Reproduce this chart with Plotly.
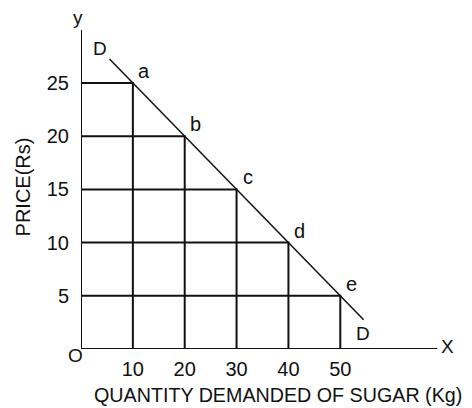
import plotly.graph_objects as go

# Data
quantity = [10, 20, 30, 40, 50]          # kg
price = [25, 20, 15, 10, 5]              # Rs
point_labels = ["a", "b", "c", "d", "e"]
x_tick_vals = [10, 20, 30, 40, 50]
y_tick_vals = [5, 10, 15, 20, 25]
demand_ext = [5.5, 54.5]                 # demand line extent (x)

INK = "#111111"
FONT = "Arial, Liberation Sans, sans-serif"

fig = go.Figure()

# staircase guide lines: horizontal from y-axis to point, vertical from point to x-axis
gx, gy = [], []
for q, p in zip(quantity, price):
    gx += [0, q, q, None]
    gy += [p, p, 0, None]
fig.add_trace(go.Scatter(x=gx, y=gy, mode="lines", line=dict(color=INK, width=2),
                         hoverinfo="skip", showlegend=False))

# demand line D-D (p = 30 - 0.5 q fits the points)
slope = (price[-1] - price[0]) / (quantity[-1] - quantity[0])
intercept = price[0] - slope * quantity[0]
dx = demand_ext
dy = [intercept + slope * v for v in dx]
fig.add_trace(go.Scatter(x=dx, y=dy, mode="lines", line=dict(color=INK, width=1.5),
                         hoverinfo="skip", showlegend=False))

# axes lines
x_axis_end = 68.7
y_axis_end = 30
fig.add_trace(go.Scatter(x=[0, x_axis_end, None, 0, 0], y=[0, 0, None, 0, y_axis_end],
                         mode="lines", line=dict(color=INK, width=2),
                         hoverinfo="skip", showlegend=False))

ann = []
for q, p, t in zip(quantity, price, point_labels):
    ann.append(dict(x=q, y=p, text=t, showarrow=False, xshift=11, yshift=12,
                    font=dict(size=20, color=INK, family=FONT)))
ann.append(dict(x=dx[0], y=dy[0], text="D", showarrow=False, xshift=-10, yshift=11,
                font=dict(size=19, color=INK, family=FONT)))
ann.append(dict(x=dx[1], y=dy[1], text="D", showarrow=False, xshift=-1, yshift=-14,
                font=dict(size=19, color=INK, family=FONT)))
ann.append(dict(x=0, y=y_axis_end, text="y", showarrow=False, xshift=-3, yshift=12,
                font=dict(size=19, color=INK, family=FONT)))
ann.append(dict(x=x_axis_end, y=0, text="X", showarrow=False, xshift=10, yshift=3,
                font=dict(size=19, color=INK, family=FONT)))
ann.append(dict(x=0, y=0, text="O", showarrow=False, xshift=-6, yshift=-6,
                font=dict(size=19, color=INK, family=FONT)))
# x-axis title (offset to the right of the plot centre, as in the original)
ann.append(dict(x=0.543, y=0, xref="paper", yref="paper", text="QUANTITY DEMANDED OF SUGAR (Kg)",
                showarrow=False, xanchor="center", yanchor="middle", yshift=-46,
                font=dict(size=19.7, color=INK, family=FONT)))

# page body has an 8px default margin, so the figure is 8px smaller and offset
fig.update_layout(
    width=464, height=400,
    margin=dict(l=73, r=28, t=17, b=59),
    paper_bgcolor="white", plot_bgcolor="white",
    font=dict(family=FONT, size=20, color=INK),
    annotations=ann,
    xaxis=dict(range=[0, 70], tickvals=x_tick_vals, ticks="", showgrid=False,
               zeroline=False, showline=False, ticklabelstandoff=6, automargin=False),
    yaxis=dict(range=[0, 30.45], tickvals=y_tick_vals, ticks="", showgrid=False,
               zeroline=False, showline=False, ticklabelstandoff=11, automargin=False,
               title=dict(text="PRICE(Rs)", standoff=10, font=dict(size=20))),
)

fig.write_html("out.html")
